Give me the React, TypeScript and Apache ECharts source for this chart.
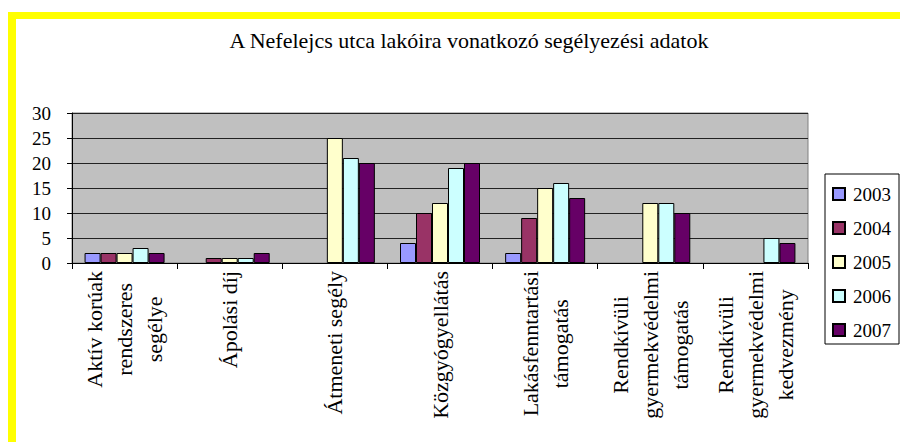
import React, { useEffect, useRef } from "react";
import * as echarts from "echarts";

const titleText = "A Nefelejcs utca lakóira vonatkozó segélyezési adatok";
const categories = [
  "Aktív korúak\nrendszeres\nsegélye",
  "Ápolási díj",
  "Átmeneti segély",
  "Közgyógyellátás",
  "Lakásfenntartási\ntámogatás",
  "Rendkívüli\ngyermekvédelmi\ntámogatás",
  "Rendkívüli\ngyermekvédelmi\nkedvezmény",
];
const years = ["2003", "2004", "2005", "2006", "2007"];
const v2003 = [2, null, null, 4, 2, null, null];
const v2004 = [2, 1, null, 10, 9, null, null];
const v2005 = [2, 1, 25, 12, 15, 12, null];
const v2006 = [3, 1, 21, 19, 16, 12, 5];
const v2007 = [2, 2, 20, 20, 13, 10, 4];
const seriesValues = [v2003, v2004, v2005, v2006, v2007];
const colors = ["#9999FF", "#993366", "#FFFFCC", "#CCFFFF", "#660066"];
const yTicks = { min: 0, max: 30, interval: 5 };

const FONT = "'Liberation Serif', 'Times New Roman', serif";

export default function App() {
  const ref = useRef<HTMLDivElement>(null);
  useEffect(() => {
    if (!ref.current) return;
    const chart = echarts.init(ref.current, undefined, { renderer: "svg" });
    chart.setOption({
      animation: false,
      backgroundColor: "#ffffff",
      textStyle: { fontFamily: FONT },
      graphic: [
        { type: "rect", shape: { x: 8, y: 12, width: 8, height: 430 }, style: { fill: "#FFFF00" } },
        { type: "rect", shape: { x: 8, y: 12, width: 892, height: 7 }, style: { fill: "#FFFF00" } },
        {
          type: "text",
          x: 469,
          y: 40,
          style: {
            text: titleText,
            fontFamily: FONT,
            fontSize: 22,
            fill: "#000",
            align: "center",
            verticalAlign: "middle",
          },
        },
      ],
      legend: {
        orient: "vertical",
        left: 825,
        top: 174,
        padding: [10, 8, 4, 7],
        itemWidth: 12,
        itemHeight: 12,
        itemGap: 14,
        borderColor: "#000",
        borderWidth: 1,
        icon: "rect",
        data: years,
        textStyle: { fontFamily: FONT, fontSize: 19, color: "#000", lineHeight: 20, padding: [0, 0, 0, 3] },
      },
      grid: {
        left: 72,
        right: 92,
        top: 113,
        bottom: 179,
        show: true,
        backgroundColor: "#C0C0C0",
        borderColor: "#808080",
        borderWidth: 1,
      },
      xAxis: {
        type: "category",
        data: categories,
        boundaryGap: true,
        axisLine: { lineStyle: { color: "#000", width: 1 } },
        axisTick: { show: true, length: 6, lineStyle: { color: "#000" } },
        axisLabel: {
          interval: 0,
          rotate: 90,
          margin: 8,
          color: "#000",
          fontFamily: FONT,
          fontSize: 22,
          lineHeight: 30,
          formatter: (v: string) =>
            v
              .split("\n")
              .map((l) => "{c|" + l + "}")
              .join("\n"),
          rich: {
            c: { align: "center", fontFamily: FONT, fontSize: 22, lineHeight: 30, color: "#000" },
          },
        },
      },
      yAxis: {
        type: "value",
        min: yTicks.min,
        max: yTicks.max,
        interval: yTicks.interval,
        axisLine: { show: true, lineStyle: { color: "#000" } },
        axisTick: { show: true, length: 5, lineStyle: { color: "#000" } },
        axisLabel: { color: "#000", fontFamily: FONT, fontSize: 19, margin: 21 },
        splitLine: { lineStyle: { color: "#222", width: 1 } },
      },
      series: years.map((y, i) => ({
        name: y,
        type: "bar",
        data: seriesValues[i],
        barWidth: 16,
        barGap: "0%",
        itemStyle: { color: colors[i], borderColor: "#000", borderWidth: 1 },
      })),
    });
    return () => chart.dispose();
  }, []);
  return (
    <div
      ref={ref}
      style={{ position: "fixed", left: 0, top: 0, width: 900, height: 442 }}
    />
  );
}
